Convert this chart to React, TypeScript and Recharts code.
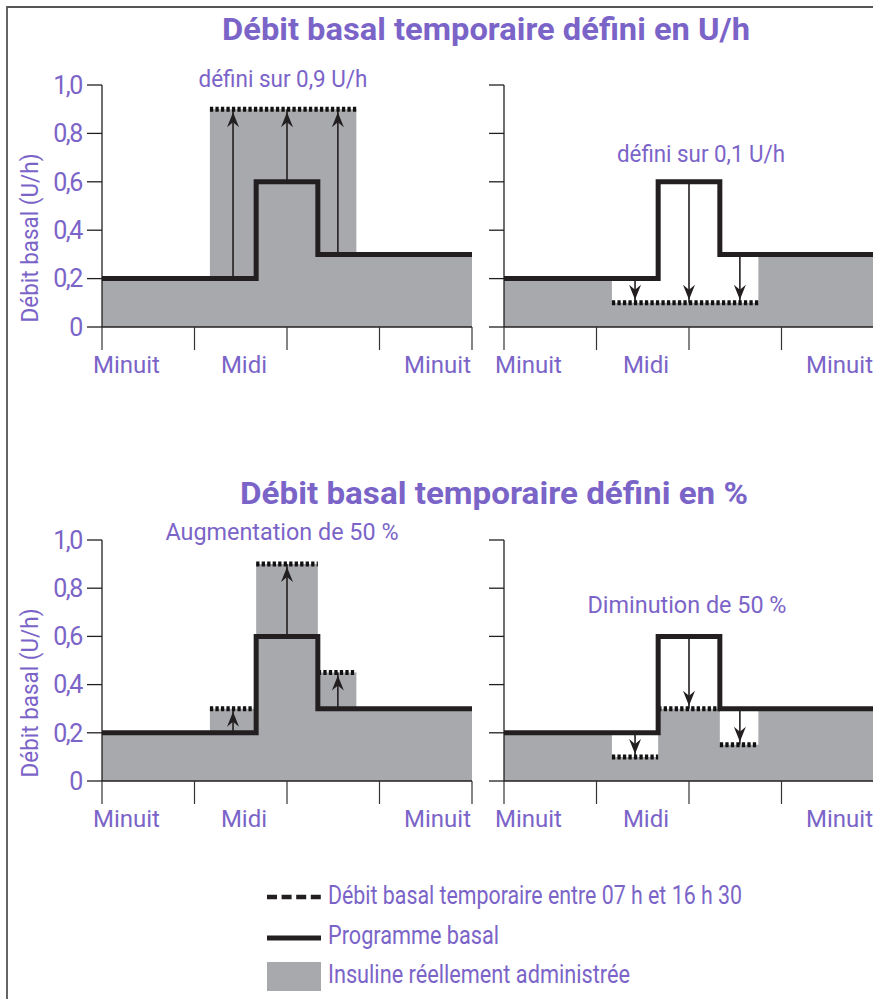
import React from 'react'
import { ComposedChart, Area, Line, XAxis, YAxis } from 'recharts'

const PURPLE = '#7b64c8'
const INK = '#231f20'
const GREY = '#a7a9ac'
const FONT = 'Roboto, sans-serif'

const hourTicks = [0, 6, 12, 18, 24]
const hourLabels = ['Minuit', '', 'Midi', '', 'Minuit']
const rateTicks = [0, 0.2, 0.4, 0.6, 0.8, 1]

// programme basal (same in all four panels)
const basal = [
  { h: 0, v: 0.2 },
  { h: 10, v: 0.6 },
  { h: 14, v: 0.3 },
  { h: 24, v: 0.3 },
]

// défini sur 0,9 U/h
const deliveredUp = [
  { h: 0, v: 0.2 },
  { h: 7, v: 0.9 },
  { h: 16.5, v: 0.3 },
  { h: 24, v: 0.3 },
]
const tempUp = [{ from: 7, to: 16.5, v: 0.9 }]
const arrowsUp = [
  { h: 8.5, from: 0.2, to: 0.9 },
  { h: 12, from: 0.6, to: 0.9 },
  { h: 15.3, from: 0.3, to: 0.9 },
]

// défini sur 0,1 U/h
const deliveredDown = [
  { h: 0, v: 0.2 },
  { h: 7, v: 0.1 },
  { h: 16.5, v: 0.3 },
  { h: 24, v: 0.3 },
]
const tempDown = [{ from: 7, to: 16.5, v: 0.1 }]
const arrowsDown = [
  { h: 8.5, from: 0.2, to: 0.1 },
  { h: 12, from: 0.6, to: 0.1 },
  { h: 15.3, from: 0.3, to: 0.1 },
]

// augmentation de 50 %
const deliveredPlus = [
  { h: 0, v: 0.2 },
  { h: 7, v: 0.3 },
  { h: 10, v: 0.9 },
  { h: 14, v: 0.45 },
  { h: 16.5, v: 0.3 },
  { h: 24, v: 0.3 },
]
const tempPlus = [
  { from: 7, to: 10, v: 0.3 },
  { from: 10, to: 14, v: 0.9 },
  { from: 14, to: 16.5, v: 0.45 },
]
const arrowsPlus = [
  { h: 8.5, from: 0.2, to: 0.3 },
  { h: 12, from: 0.6, to: 0.9 },
  { h: 15.3, from: 0.3, to: 0.45 },
]

// diminution de 50 %
const deliveredMinus = [
  { h: 0, v: 0.2 },
  { h: 7, v: 0.1 },
  { h: 10, v: 0.3 },
  { h: 14, v: 0.15 },
  { h: 16.5, v: 0.3 },
  { h: 24, v: 0.3 },
]
const tempMinus = [
  { from: 7, to: 10, v: 0.1 },
  { from: 10, to: 14, v: 0.3 },
  { from: 14, to: 16.5, v: 0.15 },
]
const arrowsMinus = [
  { h: 8.5, from: 0.2, to: 0.1 },
  { h: 12, from: 0.6, to: 0.3 },
  { h: 15.3, from: 0.3, to: 0.15 },
]

const titles = ['Débit basal temporaire défini en U/h', 'Débit basal temporaire défini en %']
const legendLabels = [
  'Débit basal temporaire entre 07 h et 16 h 30',
  'Programme basal',
  'Insuline réellement administrée',
]

const fmtRate = (v: number) => (v === 0 ? '0' : v.toFixed(1).replace('.', ','))

const hourTick = (props: any) => {
  const { x, y, payload } = props
  const i = hourTicks.indexOf(payload.value)
  const label = hourLabels[i]
  if (!label) return <g />
  let anchor = 'middle'
  let dx = -43
  if (i === 0) {
    anchor = 'start'
    dx = -9
  } else if (i === hourTicks.length - 1) {
    anchor = 'end'
    dx = -1
  }
  return (
    <text x={x + dx} y={y + 21} textAnchor={anchor} fill={PURPLE} fontSize={24} fontFamily={FONT}>
      {label}
    </text>
  )
}

// arrow head drawn at the second point of each arrow series
const arrowHead = (dir: number) => (props: any) => {
  const { cx, cy, index } = props
  if (index !== 1 || cx == null) return <g key={`a${index}`} />
  const t = cy + dir * 3
  const pts = `${cx},${t} ${cx - 6},${t + dir * 15} ${cx},${t + dir * 10} ${cx + 6},${t + dir * 15}`
  return <polygon key={`a${index}`} points={pts} fill={INK} />
}

type PanelProps = {
  left: number
  top: number
  width: number
  plotLeft: number
  plotTop: number
  plotHeight: number
  values: boolean
  delivered: { h: number; v: number }[]
  temp: { from: number; to: number; v: number }[]
  arrows: { h: number; from: number; to: number }[]
  note: string
  noteX: number
  noteY: number
  noteW: number
}

const Panel = (p: PanelProps) => {
  const H = 350
  const yW = p.values ? 60 : 20
  const mTop = p.plotTop - p.top
  const mLeft = p.plotLeft - p.left - yW
  const mRight = p.left + p.width - (p.plotLeft + 370)
  const mBottom = H - mTop - p.plotHeight - 40
  const dir = p.arrows[0].to > p.arrows[0].from ? 1 : -1
  return (
    <div style={{ position: 'absolute', left: p.left, top: p.top }}>
      <ComposedChart
        width={p.width}
        height={H}
        margin={{ top: mTop, left: mLeft, right: mRight, bottom: mBottom }}
      >
        <XAxis
          type="number"
          dataKey="h"
          domain={[0, 24]}
          ticks={hourTicks}
          interval={0}
          height={40}
          tickSize={23}
          tick={hourTick}
          axisLine={{ stroke: INK, strokeWidth: 1.3 }}
          tickLine={{ stroke: '#333', strokeWidth: 1.2 }}
        />
        <YAxis
          type="number"
          dataKey="v"
          domain={[0, 1]}
          ticks={rateTicks}
          interval={0}
          width={yW}
          tickSize={15}
          tickMargin={5}
          tickFormatter={p.values ? fmtRate : () => ''}
          tick={{ fill: PURPLE, fontSize: 25, fontFamily: FONT, letterSpacing: -1.4 }}
          axisLine={{ stroke: INK, strokeWidth: 1.3 }}
          tickLine={{ stroke: INK, strokeWidth: 1.3 }}
        />
        <Area
          data={p.delivered}
          dataKey="v"
          type="stepAfter"
          fill={GREY}
          fillOpacity={1}
          stroke="none"
          isAnimationActive={false}
        />
        {p.arrows.map((a, i) => (
          <Line
            key={`arr${i}`}
            data={[
              { h: a.h, v: a.from },
              { h: a.h, v: a.to },
            ]}
            dataKey="v"
            type="linear"
            stroke={INK}
            strokeWidth={1.6}
            dot={arrowHead(dir)}
            activeDot={false}
            isAnimationActive={false}
          />
        ))}
        {p.temp.map((s, i) => (
          <Line
            key={`tmp${i}`}
            data={[
              { h: s.from, v: s.v },
              { h: s.to, v: s.v },
            ]}
            dataKey="v"
            type="linear"
            stroke="#111"
            strokeWidth={5}
            strokeDasharray="3.3 2.2"
            dot={false}
            activeDot={false}
            isAnimationActive={false}
          />
        ))}
        <Line
          data={basal}
          dataKey="v"
          type="stepAfter"
          stroke={INK}
          strokeWidth={5}
          strokeLinejoin="miter"
          dot={false}
          activeDot={false}
          isAnimationActive={false}
        />
        {p.values && (
          <text
            x={30}
            y={p.plotTop - p.top + 153}
            transform={`rotate(-90, 30, ${p.plotTop - p.top + 153})`}
            textAnchor="middle"
            dominantBaseline="central"
            fill={PURPLE}
            fontSize={24}
            fontFamily={FONT}
            textLength={169}
            lengthAdjust="spacingAndGlyphs"
          >
            Débit basal (U/h)
          </text>
        )}
        <text
          x={p.noteX - p.left}
          y={p.noteY - p.top}
          textAnchor="middle"
          fill={PURPLE}
          fontSize={24}
          fontFamily={FONT}
          textLength={p.noteW}
          lengthAdjust="spacingAndGlyphs"
        >
          {p.note}
        </text>
      </ComposedChart>
    </div>
  )
}

export default function App() {
  return (
    <div
      style={{
        position: 'absolute',
        left: 0,
        top: 0,
        width: 873,
        height: 999,
        overflow: 'hidden',
        background: '#fff',
      }}
    >
      <svg width={873} height={999} style={{ position: 'absolute', left: 0, top: 0 }}>
        <path d="M7 999 V7 H873" fill="none" stroke="#555" strokeWidth={1.8} />
        <text x={486} y={40} textAnchor="middle" fill={PURPLE} fontSize={31} fontWeight={700} fontFamily={FONT} textLength={528} lengthAdjust="spacingAndGlyphs">
          {titles[0]}
        </text>
        <text x={494} y={504} textAnchor="middle" fill={PURPLE} fontSize={31} fontWeight={700} fontFamily={FONT} textLength={508} lengthAdjust="spacingAndGlyphs">
          {titles[1]}
        </text>
        <line x1={267} x2={321} y1={897} y2={897} stroke={INK} strokeWidth={4.5} strokeDasharray="10 4.6" />
        <line x1={267} x2={321} y1={938} y2={938} stroke={INK} strokeWidth={5} />
        <rect x={267} y={962} width={54} height={29} fill={GREY} />
        {legendLabels.map((l, i) => (
          <text
            key={l}
            x={328}
            y={[904, 944, 983][i]}
            fill={PURPLE}
            fontSize={26}
            fontFamily={FONT}
            textLength={[414, 171, 302][i]}
            lengthAdjust="spacingAndGlyphs"
          >
            {l}
          </text>
        ))}
      </svg>
      <Panel left={0} top={40} width={480} plotLeft={102} plotTop={85} plotHeight={242} values delivered={deliveredUp} temp={tempUp} arrows={arrowsUp} note="défini sur 0,9 U/h" noteX={283} noteY={87} noteW={169} />
      <Panel left={480} top={40} width={400} plotLeft={504} plotTop={85} plotHeight={242} values={false} delivered={deliveredDown} temp={tempDown} arrows={arrowsDown} note="défini sur 0,1 U/h" noteX={701} noteY={162} noteW={168} />
      <Panel left={0} top={495} width={480} plotLeft={102} plotTop={540} plotHeight={241} values delivered={deliveredPlus} temp={tempPlus} arrows={arrowsPlus} note="Augmentation de 50 %" noteX={282} noteY={540} noteW={233} />
      <Panel left={480} top={495} width={400} plotLeft={504} plotTop={540} plotHeight={241} values={false} delivered={deliveredMinus} temp={tempMinus} arrows={arrowsMinus} note="Diminution de 50 %" noteX={687} noteY={613} noteW={199} />
    </div>
  )
}
